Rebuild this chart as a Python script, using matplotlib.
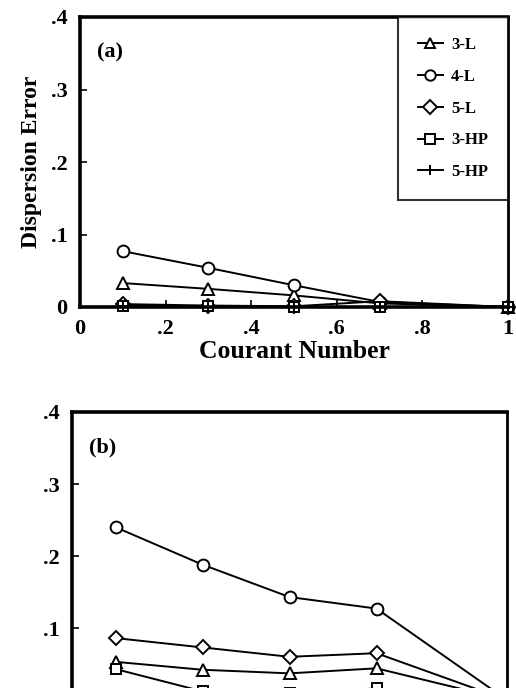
import matplotlib
matplotlib.use('Agg')
import matplotlib.pyplot as plt
from matplotlib.ticker import FixedLocator, FixedFormatter

plt.rcParams['font.family'] = ['Liberation Serif', 'DejaVu Serif']
plt.rcParams['font.weight'] = 'bold'

# Courant numbers
courant = [0.1, 0.3, 0.5, 0.7, 1.0]

# panel (a)
a_3L = [0.033, 0.025, 0.016, 0.005, 0.0]
a_4L = [0.077, 0.054, 0.030, 0.007, 0.0]
a_5L = [0.004, 0.002, 0.001, 0.008, 0.0]
a_3HP = [0.002, 0.001, 0.0, 0.0, 0.0]
a_5HP = [0.001, 0.0, 0.0, 0.0, 0.0]

# panel (b)
b_3L = [0.053, 0.042, 0.037, 0.044, 0.0]
b_4L = [0.240, 0.188, 0.143, 0.127, 0.0]
b_5L = [0.086, 0.073, 0.060, 0.065, 0.0]
b_3HP = [0.043, 0.012, 0.010, 0.016, 0.0]
b_5HP = [0.006, 0.005, 0.004, 0.003, 0.0]

labels = ['3-L', '4-L', '5-L', '3-HP', '5-HP']
markers = ['^', 'o', 'D', 's', '+']
msizes = [8, 8.5, 7, 7, 9]

x_ticks = [0, 0.2, 0.4, 0.6, 0.8, 1.0]
x_ticklabels = ['0', '.2', '.4', '.6', '.8', '1']
y_ticks = [0, 0.1, 0.2, 0.3, 0.4]
y_ticklabels = ['0', '.1', '.2', '.3', '.4']


def style_axes(ax, tag, ylabels):
    ax.set_xlim(0, 1)
    ax.set_ylim(0, 0.4)
    ax.xaxis.set_major_locator(FixedLocator(x_ticks))
    ax.xaxis.set_major_formatter(FixedFormatter(x_ticklabels))
    ax.yaxis.set_major_locator(FixedLocator(y_ticks))
    ax.yaxis.set_major_formatter(FixedFormatter(ylabels))
    ax.tick_params(direction='in', length=5, width=1.2, labelsize=16, pad=9)
    for side in ['left', 'bottom', 'top']:
        ax.spines[side].set_linewidth(2.6)
    ax.spines['right'].set_linewidth(2.0)
    ax.text(0.04, 0.86, tag, transform=ax.transAxes, fontsize=16,
            fontweight='bold')


def draw(ax, series):
    for vals, lab, m, ms in zip(series, labels, markers, msizes):
        ax.plot(courant, vals, color='black', lw=1.4, marker=m,
                markersize=ms, markerfacecolor='white',
                markeredgecolor='black', markeredgewidth=1.4,
                label=lab, clip_on=False)


fig = plt.figure(figsize=(5.16, 6.88), dpi=100)

ax1 = fig.add_axes([80 / 516, (688 - 307) / 688, 428 / 516, 290 / 688])
draw(ax1, [a_3L, a_4L, a_5L, a_3HP, a_5HP])
style_axes(ax1, '(a)', y_ticklabels)
ax1.set_ylabel('Dispersion Error', fontsize=17, fontweight='bold', labelpad=6)
ax1.set_xlabel('Courant Number', fontsize=18.5, fontweight='bold', labelpad=0)
leg = ax1.legend(loc='upper right', borderaxespad=0, fancybox=False,
                 edgecolor='black', handlelength=1.5,
                 labelspacing=0.95, borderpad=1.2, handletextpad=0.5,
                 prop={'size': 12, 'weight': 'bold'})
leg.get_frame().set_linewidth(1.5)
for h in leg.legend_handles:
    h.set_markersize(7.5)

ax2 = fig.add_axes([72 / 516, (688 - 700) / 688, 435 / 516, 288 / 688])
draw(ax2, [b_3L, b_4L, b_5L, b_3HP, b_5HP])
# the lower edge of panel (b) falls outside the page, so no "0" label
style_axes(ax2, '(b)', [''] + y_ticklabels[1:])
ax2.tick_params(axis='x', labelbottom=False)

fig.savefig('out.png', dpi=100)
